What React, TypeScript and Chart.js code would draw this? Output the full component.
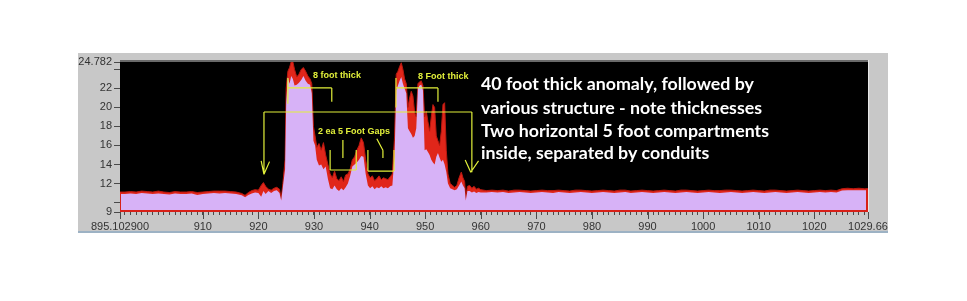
import React, { useEffect, useRef } from "react";
import { Chart, registerables } from "chart.js";

Chart.register(...registerables);

const X_MIN = 895.1029;
const X_MAX = 1029.66;
const Y_MIN = 9;
const Y_MAX = 24.782;

// depth positions (ft)
const depth = [
  895.1029, 896, 897, 898, 899, 900, 901, 902, 903, 904, 905, 906, 907, 908, 909, 910, 911, 912, 913, 914, 915, 916, 917,
  917.6, 918.2, 918.8, 919.4, 920, 920.5, 920.9, 921.3, 921.8, 922.3, 922.8, 923.3, 923.8, 924.1, 924.4, 924.8,
  925.0, 925.3, 925.6, 925.9, 926.2, 926.5, 926.9, 927.3, 927.7, 928.1, 928.5, 928.9, 929.3, 929.6, 929.9,
  930.2, 930.5, 930.9, 931.3, 931.7, 932.1, 932.5, 932.9, 933.3, 933.7, 934.1, 934.5, 934.9, 935.3, 935.7, 936.1, 936.5, 936.9, 937.3, 937.7, 938.1, 938.5, 938.9, 939.3, 939.7,
  940.1, 940.5, 940.9, 941.3, 941.7, 942.1, 942.5, 942.9, 943.3, 943.7, 944.1, 944.5,
  944.8, 945.1, 945.4, 945.7, 946.0, 946.3, 946.6, 946.9, 947.2, 947.5, 947.8, 948.1, 948.4, 948.7, 949.0, 949.3, 949.6,
  949.9, 950.2, 950.5, 950.8, 951.1, 951.4, 951.7, 952.0, 952.3, 952.6, 952.9, 953.2, 953.5, 953.8,
  954.1, 954.5, 954.9, 955.3, 955.7, 956.1, 956.5, 956.8, 957.1, 957.3, 957.6, 958.0, 958.4, 958.8, 959.2, 959.6, 960,
  961, 962, 963, 964, 965, 966, 967, 968, 969, 970, 971, 972, 973, 974, 975, 976, 977, 978, 979, 980,
  981, 982, 983, 984, 985, 986, 987, 988, 989, 990, 991, 992, 993, 994, 995, 996, 997, 998, 999, 1000,
  1001, 1002, 1003, 1004, 1005, 1006, 1007, 1008, 1009, 1010, 1011, 1012, 1013, 1014, 1015, 1016, 1017, 1018, 1019, 1020,
  1021, 1022, 1023, 1024, 1025, 1026, 1027, 1028, 1029, 1029.66,
];

// averaged signal (lavender fill)
const meanLevel = [
  10.9, 10.9, 10.95, 10.9, 11.0, 10.95, 10.9, 10.95, 10.9, 10.85, 10.95, 10.9, 10.9, 10.95, 10.8, 10.9, 10.95, 11.0, 10.95, 11.0, 10.95, 10.9, 10.75,
  10.55, 10.8, 10.95, 11.05, 11.0, 10.6, 11.2, 10.9, 11.2, 11.0, 11.2, 11.3, 11.0, 10.2, 11.6, 13.5,
  20.5, 23.2, 22.5, 23.3, 23.0, 22.3, 22.4, 22.6, 22.9, 23.3, 22.8, 22.5, 22.4, 21.5, 16.5,
  16.0, 14.5, 13.9, 14.0, 13.5, 13.8, 12.5, 11.5, 11.4, 11.8, 11.4, 11.2, 11.5, 11.3, 11.6, 12.0, 12.8, 13.8, 14.0, 14.2, 14.5, 14.9, 14.8, 13.0, 11.8,
  11.5, 11.7, 11.4, 11.6, 11.5, 11.7, 11.5, 11.6, 11.5, 11.7, 11.8, 15.0,
  21.8, 22.3, 22.8, 23.2, 22.5, 22.0, 21.5, 17.8, 17.5, 17.2, 16.8, 17.0, 17.8, 22.0, 22.3, 22.4, 21.8,
  15.5, 15.6, 15.3, 15.0, 14.5, 14.2, 14.0, 14.8, 15.2, 14.7, 14.3, 14.5, 14.0, 13.2,
  12.0, 11.5, 11.4, 11.3, 11.4, 11.8, 12.2, 11.8, 11.5, 10.2, 11.2, 11.2, 11.05, 11.15, 11.0, 11.1, 11.05,
  11.05, 11.1, 11.05, 11.1, 11.0, 11.05, 11.1, 11.05, 11.0, 11.05, 11.1, 11.05, 11.0, 11.1, 11.05, 11.0, 11.05, 11.1, 11.05, 11.0,
  11.05, 11.1, 11.05, 11.0, 11.05, 11.1, 11.0, 11.05, 11.1, 11.05, 11.0, 11.05, 11.1, 11.05, 11.0, 11.05, 11.1, 11.05, 11.0, 11.05,
  11.1, 11.05, 11.0, 11.05, 11.1, 11.05, 11.0, 11.05, 11.1, 11.05, 11.0, 11.05, 11.1, 11.05, 11.0, 11.05, 11.1, 11.05, 11.0, 11.05,
  11.1, 11.05, 11.1, 11.05, 11.25, 11.3, 11.3, 11.3, 11.3, 11.3,
];

// maximum envelope (red)
const peakLevel = [
  11.1, 11.1, 11.15, 11.1, 11.2, 11.15, 11.1, 11.2, 11.1, 11.05, 11.15, 11.1, 11.1, 11.15, 11.05, 11.1, 11.15, 11.2, 11.2, 11.2, 11.15, 11.1, 10.95,
  10.75, 11.05, 11.25, 11.35, 11.3, 11.8, 12.1, 11.7, 11.4, 11.3, 11.5, 11.6, 11.4, 10.4, 12.0, 14.5,
  22.0, 23.8, 24.2, 24.8, 24.8, 24.0, 23.2, 23.5, 24.0, 24.2, 23.8, 23.3, 23.0, 22.5, 18.0,
  17.0, 15.8, 16.2, 15.5, 16.3, 15.0, 14.0, 13.0, 12.6, 13.3, 12.5, 12.3, 12.7, 12.2, 12.9, 13.0, 13.5, 14.5, 14.8, 15.5, 16.0, 16.8, 16.3, 14.5, 13.0,
  12.6, 12.8, 12.3, 12.5, 12.8, 12.4, 12.6, 12.5, 12.4, 12.7, 13.0, 17.0,
  23.5, 23.8, 24.3, 24.7, 24.0, 23.0, 22.5, 20.0, 21.0, 21.7, 21.2, 19.5, 19.0, 22.5, 22.7, 22.8, 22.3,
  19.0, 19.6, 18.5, 17.5, 19.0, 20.3, 20.0, 17.0, 16.5, 16.0, 17.5, 20.3, 20.5, 15.5,
  13.0, 12.0, 11.8, 11.6, 11.8, 12.6, 13.2, 12.6, 12.2, 10.5, 11.7, 11.8, 11.5, 11.7, 11.4, 11.5, 11.35,
  11.25, 11.3, 11.25, 11.3, 11.2, 11.3, 11.3, 11.25, 11.2, 11.25, 11.3, 11.25, 11.25, 11.3, 11.25, 11.2, 11.3, 11.3, 11.25, 11.2,
  11.25, 11.3, 11.25, 11.2, 11.3, 11.3, 11.2, 11.25, 11.3, 11.25, 11.2, 11.25, 11.3, 11.25, 11.2, 11.3, 11.3, 11.25, 11.2, 11.25,
  11.3, 11.25, 11.25, 11.3, 11.3, 11.25, 11.2, 11.25, 11.3, 11.25, 11.2, 11.3, 11.3, 11.25, 11.2, 11.25, 11.3, 11.25, 11.2, 11.25,
  11.3, 11.25, 11.3, 11.25, 11.45, 11.5, 11.45, 11.5, 11.45, 11.45,
];

const yTicks = [9, 10, 12, 14, 16, 18, 20, 22, 24, 24.782];
const yTickLabels = ["9", "", "12", "14", "16", "18", "20", "22", "", "24.782"];
const xMajorTicks = [910, 920, 930, 940, 950, 960, 970, 980, 990, 1000, 1010, 1020];
const xEndLabels = ["895.102900", "1029.66"];

// annotation segments [x1, y1, x2, y2] in data units
const bracketSegments = [
  [921.0, 19.52, 958.4, 19.52],
  [921.0, 19.52, 921.0, 12.97],
  [920.5, 14.37, 921.0, 12.97],
  [922.0, 14.3, 921.0, 12.97],
  [958.4, 19.52, 958.4, 13.18],
  [957.2, 14.47, 958.2, 13.18],
  [959.6, 14.37, 958.2, 13.18],
  [925.3, 22.05, 933.2, 22.05],
  [925.3, 23.1, 925.3, 20.4],
  [933.2, 22.05, 933.2, 20.6],
  [944.75, 22.05, 952.3, 22.05],
  [944.75, 23.1, 944.75, 20.0],
  [952.3, 22.05, 952.3, 20.6],
  [932.9, 15.52, 932.9, 13.42],
  [932.9, 13.42, 937.6, 13.42],
  [937.6, 13.42, 937.6, 15.52],
  [935.2, 16.58, 935.2, 14.68],
  [939.7, 15.52, 939.7, 13.31],
  [939.7, 13.31, 944.4, 13.31],
  [944.4, 13.31, 944.4, 15.52],
  [941.3, 16.7, 942.4, 15.5],
  [942.4, 15.5, 942.4, 14.68],
];

const smallLabels = [
  { text: "8 foot thick", x: 929.8, y: 23.41 },
  { text: "8 Foot thick", x: 948.7, y: 23.3 },
  { text: "2 ea 5 Foot Gaps", x: 930.7, y: 17.52 },
];

const noteLines = [
  "40 foot thick anomaly, followed by",
  "various structure - note thicknesses",
  "Two horizontal 5 foot compartments",
  "inside, separated by conduits",
];
const noteX = 960.04;
const noteY = [22.47, 19.94, 17.52, 15.21];

const YELLOW = "#e2f03a";

const decorPlugin = {
  id: "decor",
  beforeDraw(chart: any) {
    const { ctx, chartArea: a, width, height } = chart;
    ctx.save();
    ctx.fillStyle = "#ffffff";
    ctx.fillRect(0, 0, width, height);
    ctx.fillStyle = "#c8c8c8";
    ctx.fillRect(a.left - 42, a.top - 9, a.right - a.left + 62, a.bottom - a.top + 29);
    ctx.fillStyle = "#9db2c4";
    ctx.fillRect(a.left - 42, a.bottom + 19, a.right - a.left + 62, 2);
    ctx.fillStyle = "#6a6a6a";
    ctx.fillRect(a.left, a.top - 2, a.right - a.left, 2);
    ctx.fillStyle = "#e6e6e6";
    ctx.fillRect(a.right, a.top - 2, 1, a.bottom - a.top + 2);
    ctx.fillStyle = "#000000";
    ctx.fillRect(a.left, a.top, a.right - a.left, a.bottom - a.top);
    ctx.restore();
  },
  afterDatasetsDraw(chart: any) {
    const { ctx, chartArea: a, scales } = chart;
    const xs = scales.x;
    const ys = scales.y;
    ctx.save();
    // red outline of the filled trace
    ctx.fillStyle = "#d82018";
    ctx.fillRect(a.left, a.bottom - 2, a.right - a.left, 2);
    const yEnd = ys.getPixelForValue(peakLevel[peakLevel.length - 1]);
    ctx.fillRect(a.right - 2, yEnd, 2, a.bottom - yEnd);
    const yStart = ys.getPixelForValue(peakLevel[0]);
    ctx.fillRect(a.left, yStart, 1, a.bottom - yStart);

    // yellow annotation brackets
    ctx.strokeStyle = YELLOW;
    ctx.lineWidth = 1.2;
    ctx.beginPath();
    for (const s of bracketSegments) {
      ctx.moveTo(xs.getPixelForValue(s[0]), ys.getPixelForValue(s[1]));
      ctx.lineTo(xs.getPixelForValue(s[2]), ys.getPixelForValue(s[3]));
    }
    ctx.stroke();

    ctx.fillStyle = YELLOW;
    ctx.font = "bold 9px 'Liberation Sans', Arial, sans-serif";
    ctx.textBaseline = "middle";
    ctx.textAlign = "left";
    for (const l of smallLabels) {
      ctx.fillText(l.text, xs.getPixelForValue(l.x), ys.getPixelForValue(l.y));
    }

    // white note text, sized to the reference line width
    ctx.font = "bold 18px Lato, 'Open Sans', sans-serif";
    const w = ctx.measureText(noteLines[2]).width;
    const size = (18 * 288) / w;
    ctx.font = `bold ${size.toFixed(2)}px Lato, 'Open Sans', sans-serif`;
    ctx.fillStyle = "#ffffff";
    noteLines.forEach((t, i) => {
      ctx.fillText(t, xs.getPixelForValue(noteX), ys.getPixelForValue(noteY[i]));
    });
    ctx.restore();
  },
  afterDraw(chart: any) {
    const { ctx, chartArea: a, scales } = chart;
    const xs = scales.x;
    ctx.save();
    ctx.strokeStyle = "#4a4a4a";
    ctx.lineWidth = 1;
    ctx.beginPath();
    const majors = [X_MIN, ...xMajorTicks, X_MAX];
    for (const v of majors) {
      const px = Math.round(xs.getPixelForValue(v)) + 0.5;
      ctx.moveTo(px, a.bottom);
      ctx.lineTo(px, a.bottom + 7);
    }
    ctx.stroke();
    ctx.restore();
  },
};

export default function App() {
  const ref = useRef<HTMLCanvasElement | null>(null);

  useEffect(() => {
    if (!ref.current) return;
    const meanPts = depth.map((x, i) => ({ x, y: meanLevel[i] }));
    const peakPts = depth.map((x, i) => ({ x, y: peakLevel[i] }));
    const chart = new Chart(ref.current, {
      type: "line",
      data: {
        datasets: [
          {
            label: "mean",
            data: meanPts,
            borderWidth: 0,
            borderColor: "rgba(0,0,0,0)",
            backgroundColor: "#d7b2f7",
            fill: "start",
            pointRadius: 0,
            tension: 0,
          },
          {
            label: "peak",
            data: peakPts,
            borderWidth: 1,
            borderColor: "#b81810",
            backgroundColor: "#e0261a",
            fill: "start",
            pointRadius: 0,
            tension: 0,
          },
        ],
      },
      options: {
        responsive: false,
        animation: false,
        events: [],
        layout: { padding: { left: 78, top: 62, right: 99, bottom: 69 } },
        plugins: { legend: { display: false }, tooltip: { enabled: false }, title: { display: false } },
        scales: {
          x: {
            type: "linear",
            min: X_MIN,
            max: X_MAX,
            border: { display: false },
            grid: { display: true, drawOnChartArea: false, drawTicks: true, tickLength: 3, color: "#4a4a4a" },
            afterBuildTicks: (scale: any) => {
              const t: { value: number }[] = [{ value: X_MIN }];
              for (let v = 896; v <= 1029; v++) t.push({ value: v });
              t.push({ value: X_MAX });
              scale.ticks = t;
            },
            afterFit: (scale: any) => {
              scale.height = 20;
            },
            ticks: {
              autoSkip: false,
              maxRotation: 0,
              minRotation: 0,
              padding: 5,
              color: "#333333",
              font: { family: "'Liberation Sans', Arial, sans-serif", size: 11 },
              callback: (value: any, index: number, ticks: any[]) => {
                if (index === 0) return xEndLabels[0];
                if (index === ticks.length - 1) return xEndLabels[1];
                return xMajorTicks.includes(Number(value)) ? String(value) : "";
              },
            },
          },
          y: {
            type: "linear",
            min: Y_MIN,
            max: Y_MAX,
            border: { display: false },
            grid: { display: true, drawOnChartArea: false, drawTicks: true, tickLength: 6, color: "#4a4a4a" },
            afterBuildTicks: (scale: any) => {
              scale.ticks = yTicks.map((v) => ({ value: v }));
            },
            afterFit: (scale: any) => {
              scale.width = 42;
            },
            ticks: {
              autoSkip: false,
              padding: 2,
              color: "#333333",
              font: { family: "'Liberation Sans', Arial, sans-serif", size: 11 },
              callback: (_v: any, index: number) => yTickLabels[index],
            },
          },
        },
      },
      plugins: [decorPlugin],
    });
    return () => chart.destroy();
  }, []);

  return (
    <canvas
      ref={ref}
      width={967}
      height={301}
      style={{ position: "fixed", left: 0, top: 0, width: 967, height: 301 }}
    />
  );
}
